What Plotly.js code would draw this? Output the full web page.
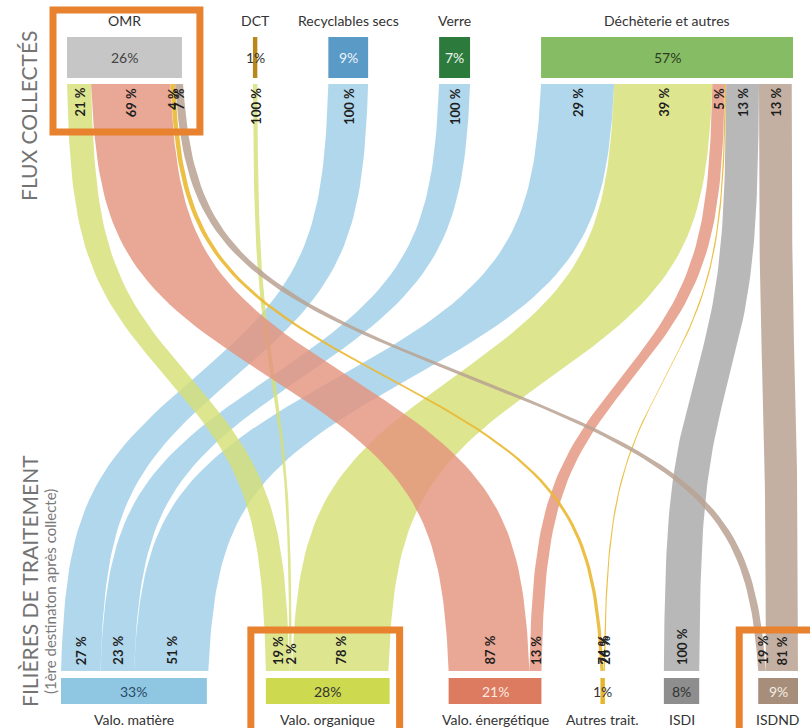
<!DOCTYPE html>
<html>
<head>
<meta charset="utf-8">
<script src="https://cdn.plot.ly/plotly-3.0.1.min.js"></script>
<style>html,body{margin:0;padding:0;background:#fff}#chart{width:810px;height:728px}</style>
</head>
<body>
<div id="chart"></div>
<script>
// Flux collectés -> filières de traitement (parts du total, en %)
const sources = ["OMR", "DCT", "Recyclables secs", "Verre", "Déchèterie et autres"];
const sourceShares = [26, 1, 9, 7, 57];
const targets = ["Valo. matière", "Valo. organique", "Valo. énergétique", "Autres trait.", "ISDI", "ISDND"];
const targetShares = [33, 28, 21, 1, 8, 9];

// one entry per flow : source, target, % of the source, % of the target
const flowSource = [0, 0, 0, 0, 1, 2, 3, 4, 4, 4, 4, 4, 4];
const flowTarget = [1, 2, 3, 5, 1, 0, 0, 0, 1, 2, 3, 4, 5];
const flowPctOfSource = [21, 69, 4, 7, 100, 100, 100, 29, 39, 5, 0.5, 13, 13];
const flowPctOfTarget = [19, 87, 74, 19, 2, 27, 23, 51, 78, 13, 26, 100, 81];

// colours
const sourceColors = ["#c6c6c6", "#b8891a", "#5a9ac6", "#2c7a3c", "#86bd64"];
const sourceTextColors = ["#444444", "#333333", "#eef4fa", "#eef7ee", "#2c3a22"];
const targetColors = ["#8fc6e2", "#cdd94f", "#dc7b5f", "#e7b52a", "#8e8e8e", "#a68e7a"];
const targetTextColors = ["#2c4a66", "#333333", "#fbeae2", "#333333", "#333333", "#f4ece4"];
const flowColors = ["rgba(160,206,232,0.82)", "rgba(214,223,118,0.82)", "rgba(228,148,126,0.82)",
                    "rgba(234,184,50,0.9)", "rgba(172,172,172,0.85)", "rgba(184,162,146,0.85)"];

// geometry (px)
const S = 4.42;                       // px per % of total
const TOP_X0 = 67, TOP_GAP = 71;
const BOT_X0 = 61, BOT_GAP = 59;
const Y_NAME_TOP = 20, Y_BOX_TOP = [37, 78], Y_FLOW = [84, 671], Y_BOX_BOT = [678, 704], Y_NAME_BOT = 719;
const FONT = "Lato, 'Open Sans', sans-serif";

function placeNodes(shares, x0, gap) {
  let x = x0;
  return shares.map(v => { const a = x, b = x + v * S; x = b + gap; return [a, b]; });
}
const topPos = placeNodes(sourceShares, TOP_X0, TOP_GAP);
const botPos = placeNodes(targetShares, BOT_X0, BOT_GAP);

// stack flows inside every node, in the order they are listed
const topCursor = topPos.map(p => p[0]);
const botCursor = botPos.map(p => p[0]);
const flows = flowSource.map((s, i) => {
  const t = flowTarget[i];
  const wTop = sourceShares[s] * flowPctOfSource[i] / 100 * S;
  const wBot = targetShares[t] * flowPctOfTarget[i] / 100 * S;
  const f = { s, t, top: [topCursor[s], topCursor[s] + wTop], bot: [botCursor[t], botCursor[t] + wBot] };
  topCursor[s] += wTop; botCursor[t] += wBot;
  return f;
});

// sigmoid 0..1
const K = 5;
const sig = u => 1 / (1 + Math.exp(-u));
const ease = t => (sig(K * (2 * t - 1)) - sig(-K)) / (sig(K) - sig(-K));

const traces = [];
function box(x0, x1, y0, y1, color) {
  traces.push({ type: "scatter", mode: "lines", x: [x0, x1, x1, x0, x0], y: [y0, y0, y1, y1, y0],
    fill: "toself", fillcolor: color, line: { width: 0 }, hoverinfo: "skip" });
}

// bands, drawn by target so the later ones sit on top
const order = flows.map((f, i) => i).sort((a, b) => flows[a].t - flows[b].t || a - b);
const N = 80;
order.forEach(i => {
  const f = flows[i];
  const xs = [], ys = [];
  for (let k = 0; k <= N; k++) {
    const t = k / N, e = ease(t);
    xs.push(f.top[0] + (f.bot[0] - f.top[0]) * e);
    ys.push(Y_FLOW[0] + (Y_FLOW[1] - Y_FLOW[0]) * t);
  }
  for (let k = N; k >= 0; k--) {
    const t = k / N, e = ease(t);
    xs.push(f.top[1] + (f.bot[1] - f.top[1]) * e);
    ys.push(Y_FLOW[0] + (Y_FLOW[1] - Y_FLOW[0]) * t);
  }
  traces.push({ type: "scatter", mode: "lines", x: xs, y: ys, fill: "toself",
    fillcolor: flowColors[f.t], line: { width: 0 }, hoverinfo: "skip" });
});

// node boxes
topPos.forEach((p, i) => box(p[0], p[1], Y_BOX_TOP[0], Y_BOX_TOP[1], sourceColors[i]));
botPos.forEach((p, i) => box(p[0], p[1], Y_BOX_BOT[0], Y_BOX_BOT[1], targetColors[i]));

const annotations = [];
function txt(x, y, text, opts) {
  annotations.push(Object.assign({ x, y, xref: "x", yref: "y", text, showarrow: false,
    font: { family: FONT, size: 14, color: "#333" } }, opts || {}));
}

topPos.forEach((p, i) => {
  const c = (p[0] + p[1]) / 2;
  txt(c, Y_NAME_TOP, sources[i]);
  txt(c, (Y_BOX_TOP[0] + Y_BOX_TOP[1]) / 2, sourceShares[i] + "%", { font: { family: FONT, size: 14, color: sourceTextColors[i] } });
});
botPos.forEach((p, i) => {
  const c = (p[0] + p[1]) / 2;
  txt(c, Y_NAME_BOT, targets[i]);
  txt(c, (Y_BOX_BOT[0] + Y_BOX_BOT[1]) / 2, targetShares[i] + "%", { font: { family: FONT, size: 14, color: targetTextColors[i] } });
});

const bold = { family: FONT, size: 13, color: "#1e1e1e", weight: "bold" };
flows.forEach((f, i) => {
  if (flowPctOfSource[i] >= 1)
    txt((f.top[0] + f.top[1]) / 2, Y_FLOW[0] + 2, flowPctOfSource[i] + " %", { textangle: -90, yanchor: "top", font: bold });
  txt((f.bot[0] + f.bot[1]) / 2, Y_FLOW[1] - 4, flowPctOfTarget[i] + " %", { textangle: -90, yanchor: "bottom", font: bold });
});

// side titles
txt(28, 116, "FLUX COLLECTÉS", { textangle: -90, font: { family: FONT, size: 21, color: "#737373" } });
txt(29, 581, "FILIÈRES DE TRAITEMENT", { textangle: -90, font: { family: FONT, size: 21, color: "#737373" } });
txt(50, 592, "(1ère destinaton après collecte)", { textangle: -90, font: { family: FONT, size: 15, color: "#7a7a7a" } });

// orange highlight frames around the nodes the text talks about
const hl = { type: "rect", xref: "x", yref: "y", line: { color: "#e8822f", width: 7 }, fillcolor: "rgba(0,0,0,0)" };
const shapes = [
  Object.assign({}, hl, { x0: topPos[0][0] - 14, x1: topPos[0][1] + 18, y0: 10, y1: 132 }),
  Object.assign({}, hl, { x0: botPos[1][0] - 15, x1: botPos[1][1] + 10, y0: 630, y1: 760 }),
  Object.assign({}, hl, { x0: botPos[5][0] - 19, x1: botPos[5][1] + 30, y0: 630, y1: 760 })
];

const layout = {
  width: 810, height: 728,
  margin: { l: 0, r: 0, t: 0, b: 0 },
  paper_bgcolor: "white", plot_bgcolor: "white",
  showlegend: false,
  xaxis: { range: [0, 810], visible: false, fixedrange: true },
  yaxis: { range: [728, 0], visible: false, fixedrange: true },
  annotations, shapes
};
Plotly.newPlot("chart", traces, layout, { displayModeBar: false, staticPlot: true });
</script>
</body>
</html>
